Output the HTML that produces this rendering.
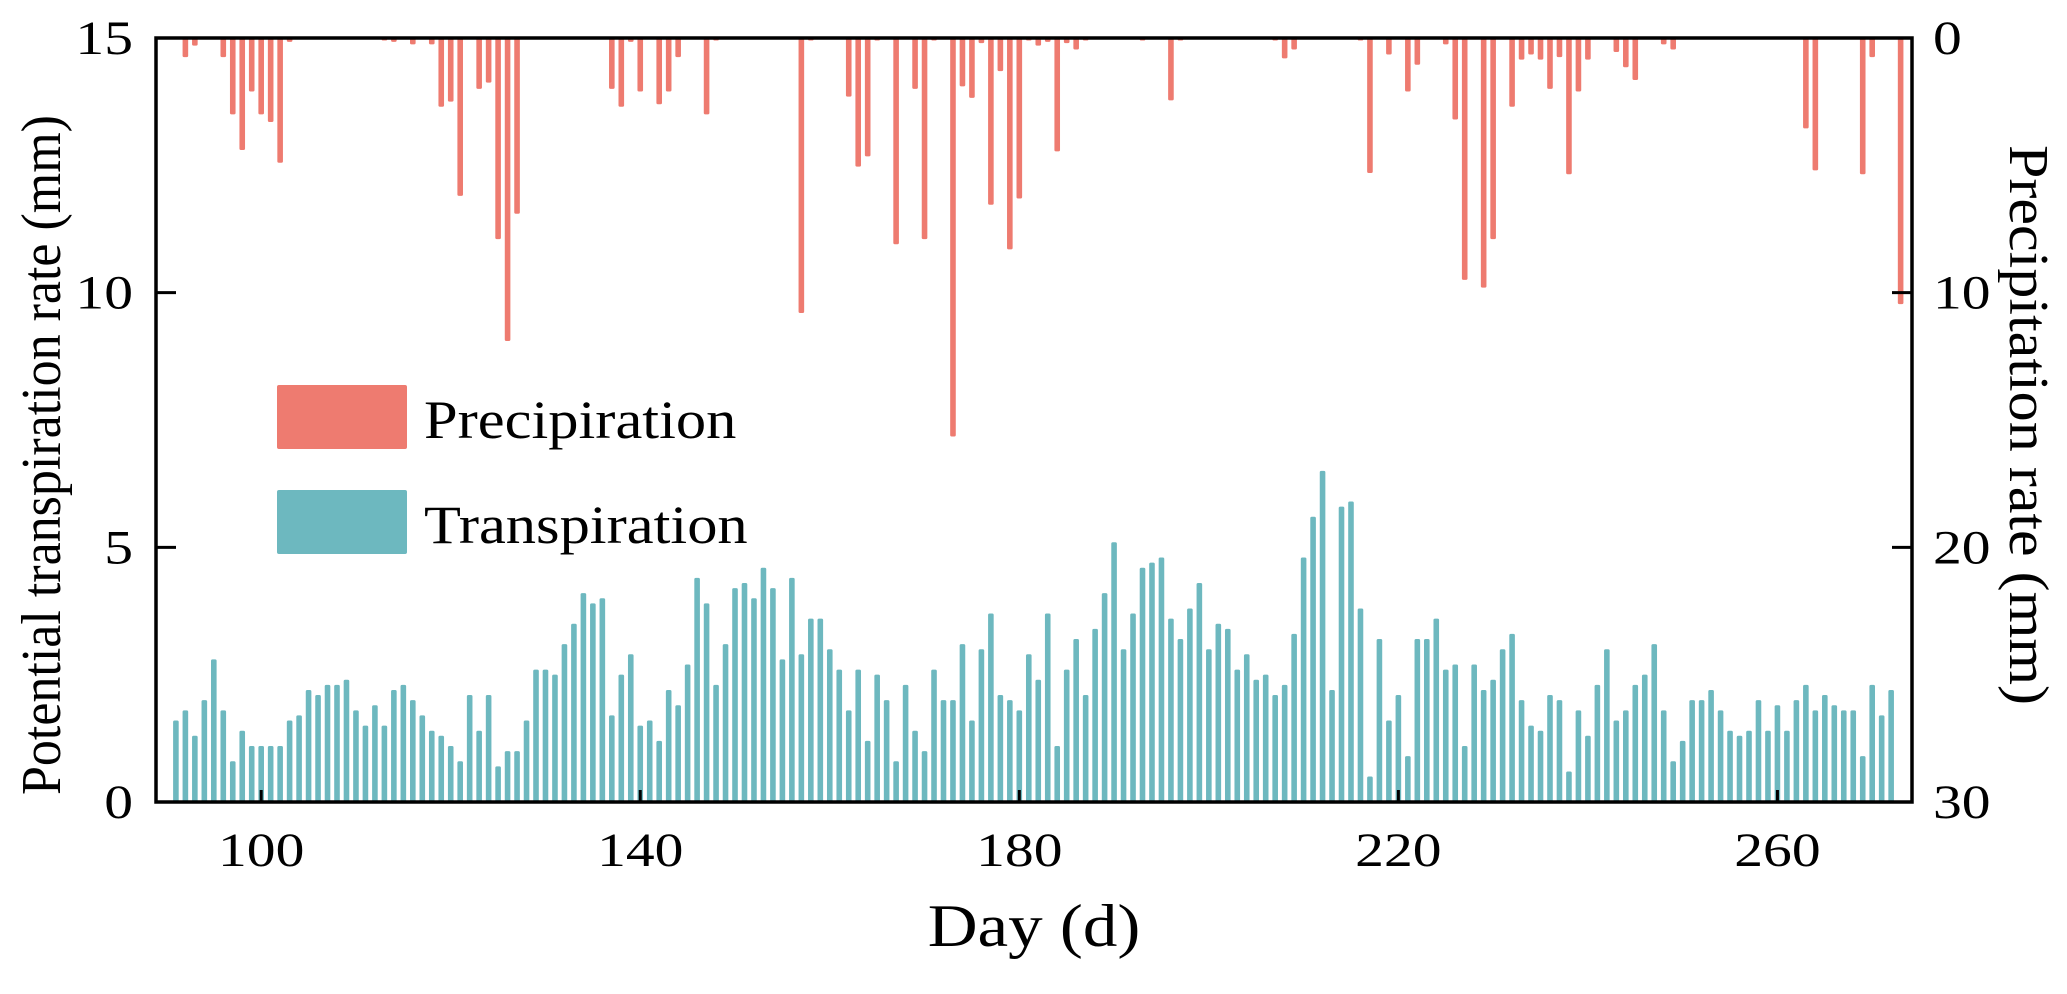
<!DOCTYPE html>
<html><head><meta charset="utf-8"><style>
html,body{margin:0;padding:0;background:#fff;}
svg{display:block;}
text{font-family:"Liberation Serif",serif;fill:#000;}
</style></head><body>
<svg id="chart" width="2067" height="994" viewBox="0 0 2067 994" xmlns="http://www.w3.org/2000/svg">
<g id="bars"></g>
<g id="axes"></g>
<g>
<rect x="277" y="385" width="130" height="64" rx="2" fill="#ee7b70"/>
<text transform="translate(424,438) scale(1.12,1)" font-size="54">Precipiration</text>
<rect x="277" y="490" width="130" height="64" rx="2" fill="#6db8bf"/>
<text transform="translate(424,543) scale(1.12,1)" font-size="54">Transpiration</text>
</g>
<text transform="translate(1034,946) scale(1.15,1)" font-size="60" text-anchor="middle">Day (d)</text>
<text transform="translate(60,455) rotate(-90)" font-size="56" text-anchor="middle" textLength="680" lengthAdjust="spacingAndGlyphs">Potential transpiration rate (mm)</text>
<text transform="translate(2010,425) rotate(90)" font-size="56" text-anchor="middle" textLength="560" lengthAdjust="spacingAndGlyphs">Precipitation rate (mm)</text>
</svg>
<script>
const transDays = [91,92,93,94,95,96,97,98,99,100,101,102,103,104,105,106,107,108,109,110,111,112,113,114,115,116,117,118,119,120,121,122,123,124,125,126,127,128,129,130,131,132,133,134,135,136,137,138,139,140,141,142,143,144,145,146,147,148,149,150,151,152,153,154,155,156,157,158,159,160,161,162,163,164,165,166,167,168,169,170,171,172,173,174,175,176,177,178,179,180,181,182,183,184,185,186,187,188,189,190,191,192,193,194,195,196,197,198,199,200,201,202,203,204,205,206,207,208,209,210,211,212,213,214,215,216,217,218,219,220,221,222,223,224,225,226,227,228,229,230,231,232,233,234,235,236,237,238,239,240,241,242,243,244,245,246,247,248,249,250,251,252,253,254,255,256,257,258,259,260,261,262,263,264,265,266,267,268,269,270,271,272];
const transValues = [1.6,1.8,1.3,2.0,2.8,1.8,0.8,1.4,1.1,1.1,1.1,1.1,1.6,1.7,2.2,2.1,2.3,2.3,2.4,1.8,1.5,1.9,1.5,2.2,2.3,2.0,1.7,1.4,1.3,1.1,0.8,2.1,1.4,2.1,0.7,1.0,1.0,1.6,2.6,2.6,2.5,3.1,3.5,4.1,3.9,4.0,1.7,2.5,2.9,1.5,1.6,1.2,2.2,1.9,2.7,4.4,3.9,2.3,3.1,4.2,4.3,4.0,4.6,4.2,2.8,4.4,2.9,3.6,3.6,3.0,2.6,1.8,2.6,1.2,2.5,2.0,0.8,2.3,1.4,1.0,2.6,2.0,2.0,3.1,1.6,3.0,3.7,2.1,2.0,1.8,2.9,2.4,3.7,1.1,2.6,3.2,2.1,3.4,4.1,5.1,3.0,3.7,4.6,4.7,4.8,3.6,3.2,3.8,4.3,3.0,3.5,3.4,2.6,2.9,2.4,2.5,2.1,2.3,3.3,4.8,5.6,6.5,2.2,5.8,5.9,3.8,0.5,3.2,1.6,2.1,0.9,3.2,3.2,3.6,2.6,2.7,1.1,2.7,2.2,2.4,3.0,3.3,2.0,1.5,1.4,2.1,2.0,0.6,1.8,1.3,2.3,3.0,1.6,1.8,2.3,2.5,3.1,1.8,0.8,1.2,2.0,2.0,2.2,1.8,1.4,1.3,1.4,2.0,1.4,1.9,1.4,2.0,2.3,1.8,2.1,1.9,1.8,1.8,0.9,2.3,1.7,2.2];
const precDays = [92,93,96,97,98,99,100,101,102,103,113,114,116,118,119,120,121,123,124,125,126,127,137,138,139,140,142,143,144,147,148,157,158,162,163,164,165,167,169,170,171,173,174,175,176,177,178,179,180,181,182,183,184,185,186,187,193,196,197,207,208,209,216,217,219,221,222,225,226,227,229,230,232,233,234,235,236,237,238,239,240,243,244,245,248,249,263,264,269,270,273];
const precValues = [0.75,0.3,0.75,3.0,4.4,2.1,3.0,3.3,4.9,0.15,0.1,0.15,0.25,0.25,2.7,2.5,6.2,2.0,1.75,7.9,11.9,6.9,2.0,2.7,0.15,2.1,2.6,2.1,0.75,3.0,0.1,10.8,0.1,2.3,5.05,4.65,0.1,8.1,2.0,7.9,0.1,15.65,1.9,2.35,0.2,6.55,1.3,8.3,6.3,0.1,0.3,0.15,4.45,0.2,0.45,0.1,0.1,2.45,0.1,0.1,0.8,0.45,0.1,5.3,0.65,2.1,1.05,0.25,3.2,9.5,9.8,7.9,2.7,0.85,0.65,0.85,2.0,0.75,5.35,2.1,0.85,0.55,1.15,1.65,0.25,0.45,3.55,5.2,5.35,0.75,10.45];
const leftTicks = [0,5,10,15];
const rightTicks = [0,10,20,30];
const xTicks = [100,140,180,220,260];

const NS="http://www.w3.org/2000/svg";
const L=156,R=1912,T=38,B=802;
const xMin=88.9,xMax=274.2;
const xs=d=>L+(d-xMin)/(xMax-xMin)*(R-L);
const yL=v=>B-v/15*(B-T);
const yR=v=>T+v/30*(B-T);
const bw=5.6;
const bars=document.getElementById('bars');
const axes=document.getElementById('axes');
function mk(tag,attrs,parent){const e=document.createElementNS(NS,tag);for(const k in attrs)e.setAttribute(k,attrs[k]);parent.appendChild(e);return e;}

transDays.forEach((d,i)=>{
  const v=transValues[i];
  const r=mk('rect',{x:xs(d)-bw/2,y:yL(v),width:bw,height:B-yL(v),rx:1.5,fill:'#6db8bf'},bars);
  
  
});
precDays.forEach((d,i)=>{
  const v=precValues[i];
  const r=mk('rect',{x:xs(d)-bw/2,y:T,width:bw,height:yR(v)-T,rx:1.5,fill:'#ee7b70'},bars);
  
  
});

const frame=mk('rect',{x:L,y:T,width:R-L,height:B-T,fill:'none',stroke:'#000','stroke-width':3.5},axes);



const FS=48, SX=1.2;
leftTicks.forEach(v=>{
  const y=yL(v);
  const t=mk('line',{x1:L,x2:L+20,y1:y,y2:y,stroke:'#000','stroke-width':3},axes);
  
  
  const tx=mk('text',{transform:`translate(133,${y+16}) scale(${SX},1)`,'font-size':FS,'text-anchor':'end'},axes);
  tx.textContent=v;
  
  
});
rightTicks.forEach(v=>{
  const y=yR(v);
  const t=mk('line',{x1:R-20,x2:R,y1:y,y2:y,stroke:'#000','stroke-width':3},axes);
  
  
  const tx=mk('text',{transform:`translate(1933,${y+16}) scale(${SX},1)`,'font-size':FS,'text-anchor':'start'},axes);
  tx.textContent=v;
  
  
});
xTicks.forEach(v=>{
  const x=xs(v);
  const t=mk('line',{x1:x,x2:x,y1:B-12,y2:B,stroke:'#000','stroke-width':3},axes);
  
  
  const tx=mk('text',{transform:`translate(${x},866) scale(${SX},1)`,'font-size':FS,'text-anchor':'middle'},axes);
  tx.textContent=v;
  
  
});
</script>
</body></html>
